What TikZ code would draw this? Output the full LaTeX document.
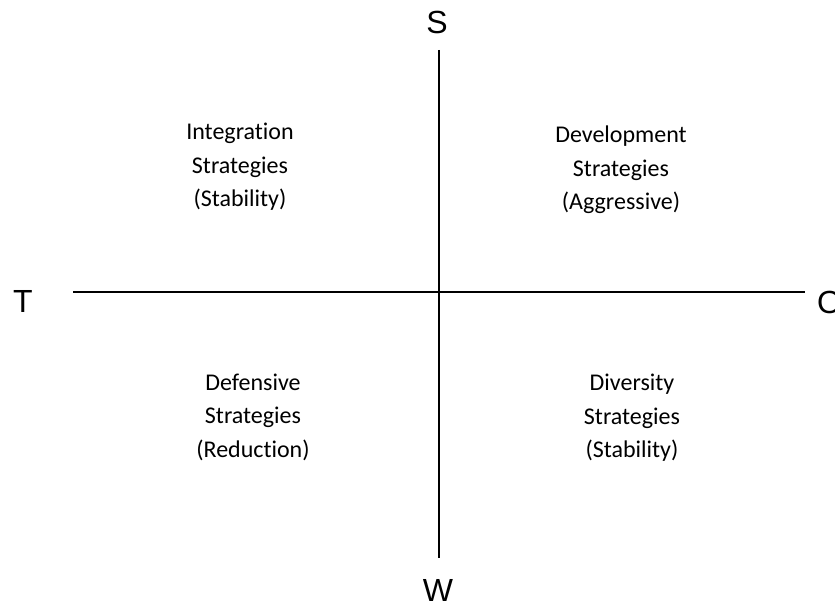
\documentclass[tikz,border=0pt]{standalone}
\usepackage{fontspec}
\setmainfont[Ligatures=NoCommon]{Carlito}
\newfontfamily\axisfont{Liberation Sans}
\begin{document}
\begin{tikzpicture}[x=1pt,y=-1pt,
  axis/.style={line width=1.9pt,draw=black},
  pole/.style={font=\axisfont\fontsize{32}{36}\selectfont,inner sep=0pt},
  quad/.style={font=\fontsize{24}{33.5}\selectfont,align=center,inner sep=0pt}]
  \useasboundingbox (0,0) rectangle (835,607);
  % pole labels
  \node[pole] (S) at (437,22) {S};
  \node[pole] (W) at (438,590) {W};
  \node[pole] (T) at (23,301) {T};
  \node[pole,anchor=west] (O) at (817,302) {O};
  % axis end points
  \coordinate (top) at (439,50);
  \coordinate (bottom) at (439,558);
  \coordinate (left) at (73,292);
  \coordinate (right) at (805,292);
  \draw[axis] (top) -- (bottom);
  \draw[axis] (left) -- (right);
  % quadrant labels
  \node[quad] (integration) at (240,167) {Integration\\Strategies\\(Stability)};
  \node[quad] (development) at (621,170) {Development\\Strategies\\(Aggressive)};
  \node[quad] (defensive) at (253,417) {Defensive\\Strategies\\(Reduction)};
  \node[quad] (diversity) at (632,418) {Diversity\\Strategies\\(Stability)};
\end{tikzpicture}
\end{document}
